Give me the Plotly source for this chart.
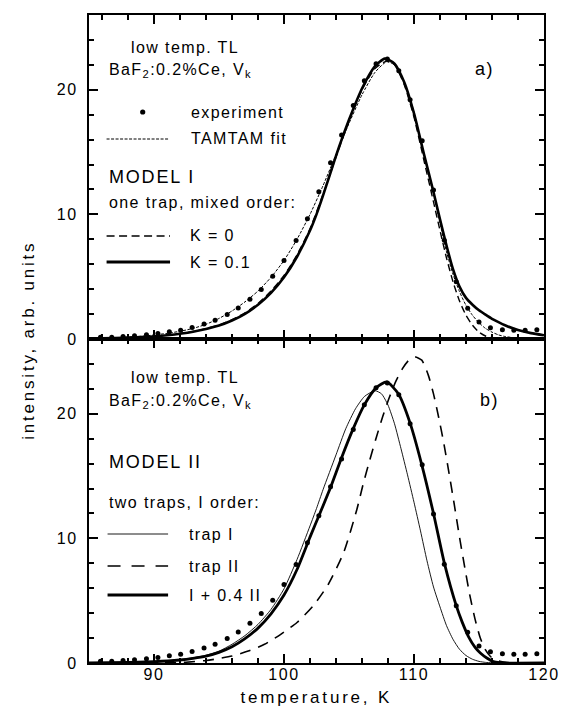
import plotly.graph_objects as go

# ---------------- data ----------------
T_exp = [85.88, 86.75, 87.62, 88.5, 89.42, 90.3, 91.18, 92.05, 92.93, 93.85, 94.7, 95.63, 96.48,
         97.38, 98.25, 99.13, 100.0, 100.93, 101.8, 102.68, 103.58, 104.43, 105.33, 106.18, 107.08,
         107.95, 108.83, 109.7, 110.63, 111.5, 112.33, 113.25, 114.13, 115.0, 115.88, 116.8, 117.68,
         118.55, 119.45]
I_exp = [0.15, 0.15, 0.2, 0.27, 0.35, 0.45, 0.58, 0.7, 0.92, 1.2, 1.5, 1.96, 2.48, 3.18, 3.97, 5.03,
         6.3, 7.9, 9.65, 11.82, 14.15, 16.38, 18.74, 20.72, 22.09, 22.47, 21.53, 19.2, 15.9, 11.96,
         7.93, 4.6, 2.46, 1.36, 0.9, 0.74, 0.7, 0.7, 0.74]

# panel a) one trap, mixed order
T_k01 = [85, 87, 89, 91, 93, 95, 96, 97, 98, 99, 100, 101, 102, 102.5, 103, 103.5, 104, 104.5, 105,
         105.5, 106, 106.5, 107, 107.75, 108.5, 109.25, 110, 110.75, 111.5, 112, 112.5, 113, 113.5,
         114, 114.5, 115, 115.5, 116, 116.5, 117, 118, 119, 120]
I_k01 = [0.03, 0.07, 0.15, 0.3, 0.58, 1.08, 1.48, 2.02, 2.75, 3.7, 4.95, 6.6, 8.7, 10.0, 11.5, 13.1,
         14.7, 16.2, 17.6, 18.9, 20.1, 21.1, 21.9, 22.5, 22.1, 20.6, 18.1, 14.9, 11.8, 9.6, 7.5, 5.6,
         4.2, 3.3, 2.75, 2.3, 1.95, 1.62, 1.35, 1.1, 0.72, 0.47, 0.3]

T_k0 = [85, 87, 89, 91, 93, 95, 96, 97, 98, 99, 100, 101, 102, 103, 104, 105, 106, 107, 107.9, 108.5,
        109.25, 110, 110.75, 111.5, 112, 112.5, 113, 113.5, 114, 114.5, 115, 115.5, 116, 116.5, 117,
        118, 120]
I_k0 = [0.02, 0.06, 0.14, 0.3, 0.6, 1.12, 1.55, 2.1, 2.85, 3.85, 5.1, 6.75, 8.85, 11.6, 14.6, 17.5,
        20.0, 21.7, 22.3, 22.0, 20.4, 17.8, 14.4, 11.0, 8.7, 6.5, 4.6, 3.05, 1.9, 1.1, 0.55, 0.24,
        0.09, 0.03, 0.0, 0.0, 0.0]

T_tt = [85, 87, 89, 90, 91, 92, 93, 94, 95, 96, 97, 98, 99, 100, 101, 102, 103, 104, 105, 106, 107,
        107.9, 108.5, 109.25, 110, 110.75, 111.5, 112, 112.5, 113, 113.5, 114, 114.5, 115, 115.5, 116,
        116.5, 117, 118, 119, 120]
I_tt = [0.03, 0.1, 0.22, 0.32, 0.45, 0.62, 0.85, 1.18, 1.65, 2.25, 2.98, 3.85, 4.95, 6.3, 8.0, 10.0,
        12.3, 14.8, 17.3, 19.6, 21.4, 22.25, 22.0, 20.6, 18.2, 14.9, 11.6, 9.3, 7.0, 5.2, 3.8, 2.7,
        1.9, 1.3, 0.85, 0.55, 0.33, 0.2, 0.07, 0.02, 0.0]

# panel b) two traps, first order
T_t1 = [85, 88, 90, 92, 93, 94, 95, 96, 97, 98, 99, 100, 101, 102, 102.5, 103, 104, 104.75, 105.5,
        106.2, 107, 107.5, 108, 108.5, 109, 109.5, 110, 110.5, 111, 111.5, 112, 112.5, 113, 113.5,
        114, 114.5, 115, 115.5, 116, 120]
I_t1 = [0.01, 0.05, 0.11, 0.27, 0.42, 0.62, 0.95, 1.5, 2.2, 3.1, 4.3, 5.95, 8.3, 11.0, 12.4, 13.9,
        16.7, 18.8, 20.4, 21.4, 21.85, 21.6, 20.7, 19.2, 17.2, 15.1, 12.9, 10.6, 8.2, 6.1, 4.5, 3.0,
        1.9, 1.1, 0.6, 0.3, 0.13, 0.05, 0.02, 0.0]

T_t2 = [85, 90, 92.25, 94, 95, 96, 97.25, 98.5, 99.75, 101, 102.25, 103.4, 104.6, 105.6, 106.1, 106.6,
        107.1, 107.6, 108.1, 108.6, 109.1, 109.6, 110.1, 110.6, 111.1, 111.5, 111.9, 112.3, 112.7,
        113.1, 113.5, 113.9, 114.3, 114.7, 115.1, 115.5, 115.9, 116.4, 117, 118, 120]
I_t2 = [0.0, 0.01, 0.05, 0.2, 0.36, 0.56, 0.96, 1.5, 2.3, 3.25, 4.6, 6.3, 8.9, 12.3, 14.4, 16.3, 18.1,
        19.8, 21.3, 22.6, 23.6, 24.3, 24.55, 24.3, 23.1, 21.6, 19.7, 17.6, 15.2, 12.7, 10.1, 7.7, 5.4,
        3.5, 2.0, 1.05, 0.5, 0.2, 0.05, 0.0, 0.0]

T_sum = [85, 88, 90, 92, 93, 94, 95, 96, 97, 98, 99, 100, 101, 102, 102.7, 103.6, 104.4, 105.3, 106.2,
         107.1, 107.9, 108.8, 109.7, 110.6, 111.5, 112.35, 113.25, 113.7, 114.2, 114.7, 115.1, 115.6,
         116.1, 116.6, 117, 120]
I_sum = [0.01, 0.05, 0.1, 0.24, 0.37, 0.55, 0.85, 1.3, 1.95, 2.8, 3.95, 5.45, 7.5, 10.1, 11.85, 14.15,
         16.4, 18.75, 20.75, 22.1, 22.55, 21.6, 19.25, 15.9, 12.0, 7.95, 4.6, 3.3, 2.1, 1.25, 0.8, 0.4,
         0.12, 0.03, 0.0, 0.0]

x_ticks = [90, 100, 110, 120]
y_ticks = [0, 10, 20]

# ---------------- figure ----------------
FONT = "Liberation Sans, Arial, sans-serif"
W, H = 569, 721
ML, MR, MT, MB = 89, 14, 15, 58
PW, PH = W - ML - MR, H - MT - MB


def px(x):
    return (x - ML) / PW


def py(y):
    return (H - MB - y) / PH


fig = go.Figure()

# top panel
fig.add_trace(go.Scatter(x=T_tt, y=I_tt, mode="lines", xaxis="x", yaxis="y",
                         line=dict(color="black", width=1, dash="3px,1.5px", shape="spline", smoothing=0.6)))
fig.add_trace(go.Scatter(x=T_k0, y=I_k0, mode="lines", xaxis="x", yaxis="y",
                         line=dict(color="black", width=1.4, dash="7px,4px", shape="spline", smoothing=0.6)))
fig.add_trace(go.Scatter(x=T_k01, y=I_k01, mode="lines", xaxis="x", yaxis="y",
                         line=dict(color="black", width=2.6, shape="spline", smoothing=0.6)))
fig.add_trace(go.Scatter(x=T_exp, y=I_exp, mode="markers", xaxis="x", yaxis="y",
                         marker=dict(color="black", size=5), cliponaxis=False))

# bottom panel
fig.add_trace(go.Scatter(x=T_t2, y=I_t2, mode="lines", xaxis="x2", yaxis="y2",
                         line=dict(color="black", width=1.6, dash="11px,8px", shape="spline", smoothing=0.6)))
fig.add_trace(go.Scatter(x=T_t1, y=I_t1, mode="lines", xaxis="x2", yaxis="y2",
                         line=dict(color="black", width=0.9, shape="spline", smoothing=0.6)))
fig.add_trace(go.Scatter(x=T_sum, y=I_sum, mode="lines", xaxis="x2", yaxis="y2",
                         line=dict(color="black", width=2.8, shape="spline", smoothing=0.6)))
fig.add_trace(go.Scatter(x=T_exp, y=I_exp, mode="markers", xaxis="x2", yaxis="y2",
                         marker=dict(color="black", size=5), cliponaxis=False))

axis_common = dict(showline=True, linecolor="black", linewidth=2, mirror="allticks",
                   ticks="inside", ticklen=9, tickwidth=1.6, tickcolor="black",
                   showgrid=False, zeroline=False,
                   tickfont=dict(family=FONT, size=16, color="black"))
minor_ticks = dict(dtick=2, tick0=0, ticks="inside", ticklen=5, tickwidth=1.6, tickcolor="black")

fig.update_layout(
    width=W, height=H, margin=dict(l=ML, r=MR, t=MT, b=MB),
    paper_bgcolor="white", plot_bgcolor="white", showlegend=False,
    font=dict(family=FONT, size=16, color="black"),
    xaxis=dict(axis_common, domain=[0, 1], anchor="y", range=[85, 120], tickvals=x_ticks,
               showticklabels=False, minor=minor_ticks),
    yaxis=dict(axis_common, domain=[0.5, 1], anchor="x", range=[0, 26], tickvals=y_ticks,
               ticklabelstandoff=6, minor=minor_ticks),
    xaxis2=dict(axis_common, domain=[0, 1], anchor="y2", range=[85, 120], tickvals=x_ticks,
                ticklabelstandoff=-4, minor=minor_ticks),
    yaxis2=dict(axis_common, domain=[0, 0.5], anchor="x2", range=[0, 26], tickvals=y_ticks,
                ticklabelstandoff=6, minor=minor_ticks),
)

annotations = []


def text(t, x, y, size=16, xanchor="left", angle=0):
    annotations.append(dict(text=t, x=px(x), y=py(y), xref="paper", yref="paper",
                            xanchor=xanchor, yanchor="middle", showarrow=False,
                            align="left" if xanchor == "left" else "center",
                            textangle=angle, font=dict(family=FONT, size=size, color="black")))


# panel a legend
text("low temp. TL", 130, 47)
text("BaF<sub>2</sub>:0.2%Ce, V<sub>k</sub>", 107, 70)
text("experiment", 191, 112)
text("TAMTAM fit", 191, 139)
text("MODEL I", 107, 177, size=18)
text("one trap, mixed order:", 107, 203)
text("K = 0", 190, 236)
text("K = 0.1", 190, 262)
text("a)", 482, 69, size=18)
# panel b legend
text("low temp. TL", 130, 378)
text("BaF<sub>2</sub>:0.2%Ce, V<sub>k</sub>", 107, 401)
text("MODEL II", 107, 462, size=18)
text("two traps, I order:", 107, 502)
text("trap I", 189, 534)
text("trap II", 189, 566)
text("I + 0.4 II", 189, 595)
text("b)", 487, 400, size=18)
# axis titles
text("temperature, K", 322, 698, size=17, xanchor="center")
text("intensity, arb. units", 27, 340, size=17, xanchor="center", angle=-90)

fig.update_layout(annotations=annotations)

shapes = []


def sample(x0, x1, y, width, dash="solid"):
    shapes.append(dict(type="line", xref="paper", yref="paper", x0=px(x0), x1=px(x1),
                       y0=py(y), y1=py(y), line=dict(color="black", width=width, dash=dash)))


shapes.append(dict(type="circle", xref="paper", yref="paper", xsizemode="pixel", ysizemode="pixel",
                   xanchor=px(144), yanchor=py(112), x0=-2.6, x1=2.6, y0=-2.6, y1=2.6,
                   fillcolor="black", line=dict(color="black", width=0)))
sample(107, 170, 139, 1, "3px,1.5px")
sample(107, 172, 236, 1.4, "8px,4.5px")
sample(107, 172, 262, 2.8)
sample(108, 170, 534, 0.9)
sample(108, 170, 566, 1.6, "13px,11px")
sample(108, 170, 595, 2.8)
fig.update_layout(shapes=shapes)

post = """
var st=document.createElement('style');
st.textContent='.xtick text,.ytick text,.x2tick text,.y2tick text{letter-spacing:1.6px}'+
 '.annotation-text{letter-spacing:1.4px}';
document.head.appendChild(st);
document.querySelectorAll('.annotation-text').forEach(function(t){
  var c=t.textContent;
  if(c.indexOf('intensity')===0||c.indexOf('temperature')===0){t.style.letterSpacing='2.8px';}
  if(c.indexOf('MODEL')===0){t.style.letterSpacing='1.8px';}
});
"""

fig.write_html("out.html", post_script=post)
